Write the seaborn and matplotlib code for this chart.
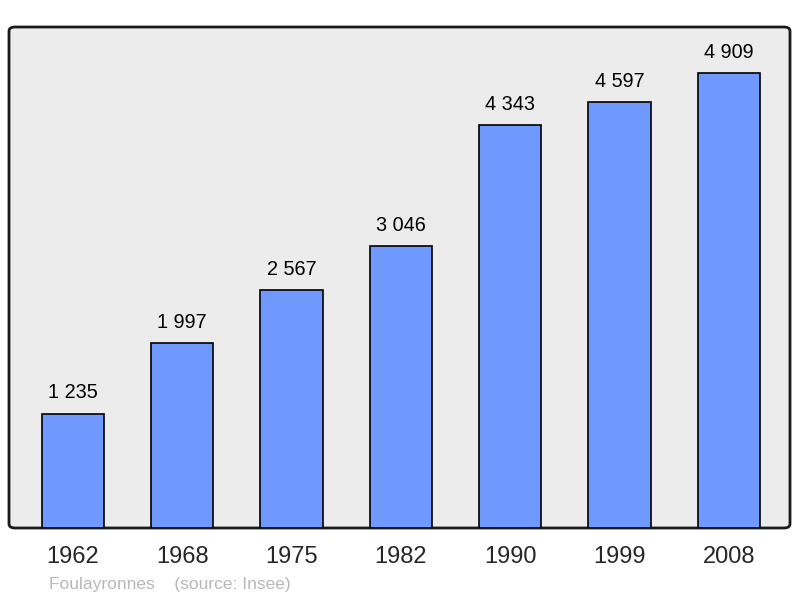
import matplotlib
matplotlib.use("Agg")
import matplotlib.pyplot as plt
import seaborn as sns
from matplotlib.patches import FancyBboxPatch

years = ["1962", "1968", "1975", "1982", "1990", "1999", "2008"]
population = [1235, 1997, 2567, 3046, 4343, 4597, 4909]
caption = "Foulayronnes    (source: Insee)"

sns.set_style("white")
plt.rcParams['font.family'] = ['Liberation Sans', 'DejaVu Sans']

fig = plt.figure(figsize=(8, 5.98), dpi=100)
ax = fig.add_axes([9 / 800, 1 - 528 / 598, 781 / 800, 501 / 598])
ax.set_facecolor("none")

frame = FancyBboxPatch((0, 0), 1, 1, boxstyle="round,pad=0,rounding_size=0.008",
                       transform=ax.transAxes, facecolor="#ececec",
                       edgecolor="#1a1a1a", linewidth=2, clip_on=False, zorder=0)
ax.add_patch(frame)

sns.barplot(x=years, y=population, color="#7099ff", saturation=1,
            width=0.57, edgecolor="black", linewidth=1.2, ax=ax, zorder=2)

for i, v in enumerate(population):
    ax.annotate(f"{v:,}".replace(",", " "), (i, v), xytext=(0, 8),
                textcoords="offset points", ha="center", va="bottom",
                fontsize=14.3, color="black")

ax.set_xlim(-0.585, 6.56)
ax.set_ylim(0, 5405)
ax.set_yticks([])
for s in ax.spines.values():
    s.set_visible(False)
ax.tick_params(axis="x", length=0, labelsize=17, pad=13)
ax.set_xlabel("")
ax.set_ylabel("")

fig.text(49 / 800, 1 - 585 / 598, caption, fontsize=12.5, color="#b8b8b8",
         ha="left", va="center")

plt.savefig("out.png", dpi=100)
